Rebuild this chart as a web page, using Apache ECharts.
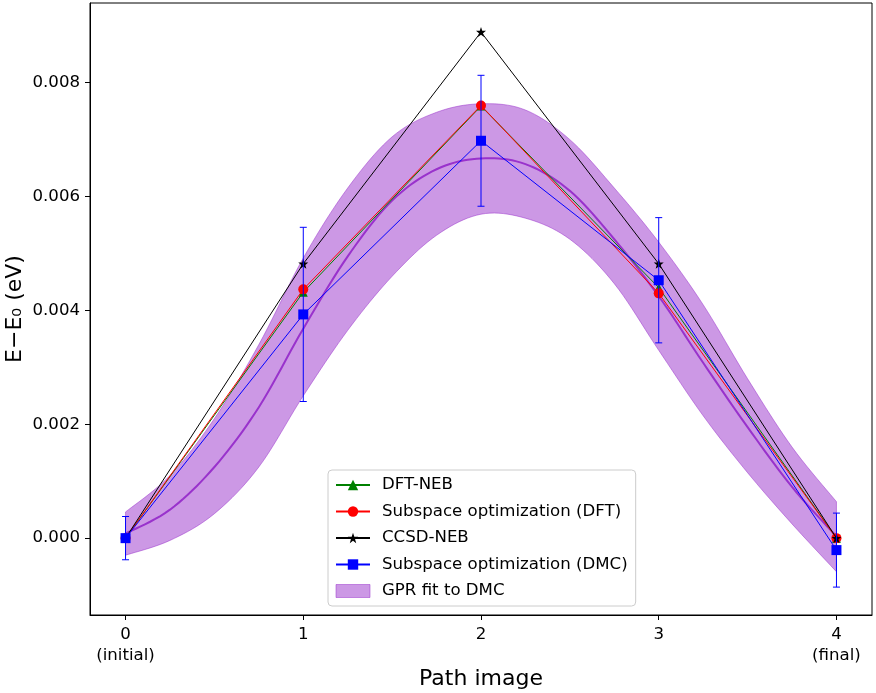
<!DOCTYPE html>
<html>
<head>
<meta charset="utf-8">
<script src="https://cdn.jsdelivr.net/npm/echarts@6/dist/echarts.min.js"></script>
<style>
    html, body { margin: 0; padding: 0; background: #fff; }
    #main { width: 876px; height: 693px; }
</style>
</head>
<body>
<div id="main"></div>
<script>
// path images
var images = [0, 1, 2, 3, 4];
var xTickLabels = ['0\n(initial)', '1', '2', '3', '4\n(final)'];
var yTicks = [0, 0.002, 0.004, 0.006, 0.008];

// energies (eV)
var dftNeb = [0, 0.00432, 0.00759, 0.0044, 0];
var subDft = [0, 0.00437, 0.0076, 0.0043, 0];
var ccsdNeb = [0, 0.00482, 0.00889, 0.00482, 0];
var subDmc = [0, 0.00393, 0.00698, 0.00453, -0.00021];
var subDmcErr = [0.00038, 0.00153, 0.00115, 0.0011, 0.00065];

// GPR fit to DMC
var gprX = [0, 0.25, 0.5, 0.75, 1, 1.25, 1.5, 1.75, 2, 2.25, 2.5, 2.75, 3, 3.25, 3.5, 3.75, 4];
var gprMean = [0.00008, 0.0005, 0.00125, 0.0023, 0.00368, 0.00495, 0.00593, 0.00648, 0.00667,
    0.00657, 0.0061, 0.00525, 0.00425, 0.00308, 0.00195, 0.0009, 0.00003];
var gprLower = [-0.0003, -0.00004, 0.00043, 0.00125, 0.0025, 0.00365, 0.0046, 0.00532, 0.00569,
    0.00562, 0.00525, 0.00447, 0.0033, 0.00215, 0.00115, 0.00025, -0.00059];
var gprUpper = [0.00046, 0.0011, 0.0021, 0.0034, 0.00492, 0.00615, 0.00705, 0.00748, 0.00763,
    0.00752, 0.007, 0.00615, 0.0052, 0.0041, 0.0028, 0.0016, 0.00064];

var FONT = 'DejaVu Sans';
var ORCHID = '#9932cc';
var ORCHID_HALF = 'rgba(153,50,204,0.5)';

function pairs(xs, ys) {
    return xs.map(function(x, i) { return [x, ys[i]]; });
}

// catmull-rom through pixel points so the band looks like the smooth fit
function spline(pts, steps) {
    var out = [];
    for (var i = 0; i < pts.length - 1; i++) {
        var p0 = pts[Math.max(i - 1, 0)], p1 = pts[i], p2 = pts[i + 1], p3 = pts[Math.min(i + 2, pts.length - 1)];
        for (var s = 0; s < steps; s++) {
            var t = s / steps, t2 = t * t, t3 = t2 * t;
            out.push([0, 1].map(function(k) {
                return 0.5 * ((2 * p1[k]) + (-p0[k] + p2[k]) * t +
                    (2 * p0[k] - 5 * p1[k] + 4 * p2[k] - p3[k]) * t2 +
                    (-p0[k] + 3 * p1[k] - 3 * p2[k] + p3[k]) * t3);
            }));
        }
    }
    out.push(pts[pts.length - 1]);
    return out;
}

function renderGpr(params, api) {
    if (params.dataIndex !== 0) return;
    var up = spline(gprX.map(function(x, i) { return api.coord([x, gprUpper[i]]); }), 10);
    var lo = spline(gprX.map(function(x, i) { return api.coord([x, gprLower[i]]); }), 10);
    var mid = spline(gprX.map(function(x, i) { return api.coord([x, gprMean[i]]); }), 10);
    return {
        type: 'group',
        children: [
            { type: 'polygon', shape: { points: up.concat(lo.slice().reverse()) },
              style: { fill: ORCHID_HALF, stroke: ORCHID_HALF, lineWidth: 1 } },
            { type: 'polyline', shape: { points: mid },
              style: { fill: null, stroke: ORCHID, lineWidth: 2 } }
        ]
    };
}

function renderErr(params, api) {
    var x = api.value(0), y = api.value(1), e = api.value(2);
    var top = api.coord([x, y + e]);
    var bot = api.coord([x, y - e]);
    var c = 3.5;
    var st = { stroke: '#0000ff', lineWidth: 1 };
    return {
        type: 'group',
        children: [
            { type: 'line', shape: { x1: top[0], y1: top[1], x2: bot[0], y2: bot[1] }, style: st },
            { type: 'line', shape: { x1: top[0] - c, y1: top[1], x2: top[0] + c, y2: top[1] }, style: st },
            { type: 'line', shape: { x1: bot[0] - c, y1: bot[1], x2: bot[0] + c, y2: bot[1] }, style: st }
        ]
    };
}

var chart = echarts.init(document.getElementById('main'));

var option = {
    animation: false,
    textStyle: { fontFamily: FONT },
    grid: {
        left: 90, right: 4, top: 3, bottom: 78,
        outerBoundsMode: 'none',
        containLabel: false,
        show: true, borderColor: '#000', borderWidth: 1
    },
    legend: {
        left: 328, top: 470,
        orient: 'vertical',
        padding: [5, 8, 5, 7],
        itemGap: 6.5,
        itemWidth: 34,
        itemHeight: 13,
        borderColor: '#cccccc',
        borderWidth: 1,
        borderRadius: 4,
        backgroundColor: 'rgba(255,255,255,0.8)',
        textStyle: { fontFamily: FONT, fontSize: 16.6, color: '#000', lineHeight: 20, padding: [0, 0, 0, 7] },
        data: [
            'DFT-NEB',
            'Subspace optimization (DFT)',
            'CCSD-NEB',
            'Subspace optimization (DMC)',
            { name: 'GPR fit to DMC', icon: 'rect', itemStyle: { color: ORCHID_HALF, borderColor: ORCHID_HALF, borderWidth: 1 } }
        ]
    },
    xAxis: {
        type: 'value',
        min: -0.2, max: 4.2,
        name: 'Path image',
        nameLocation: 'middle',
        nameGap: 53,
        nameMoveOverlap: false,
        nameTextStyle: { fontFamily: FONT, fontSize: 22, color: '#000' },
        splitLine: { show: false },
        axisLine: { show: true, onZero: false, lineStyle: { color: '#000', width: 1 } },
        axisTick: { show: true, length: 5, lineStyle: { color: '#000' }, customValues: images },
        axisLabel: {
            customValues: images,
            margin: 9,
            fontFamily: FONT, fontSize: 16.6, color: '#000', lineHeight: 21,
            formatter: function(v) {
                var i = images.indexOf(v);
                return i >= 0 ? xTickLabels[i] : '';
            }
        }
    },
    yAxis: {
        type: 'value',
        min: -0.00135, max: 0.0094,
        name: 'E\u2212E\u2080 (eV)',
        nameLocation: 'middle',
        nameGap: 64,
        nameMoveOverlap: false,
        nameTextStyle: { fontFamily: FONT, fontSize: 22, color: '#000' },
        splitLine: { show: false },
        axisLine: { show: true, onZero: false, lineStyle: { color: '#000', width: 1 } },
        axisTick: { show: true, length: 5, lineStyle: { color: '#000' }, customValues: yTicks },
        axisLabel: {
            customValues: yTicks,
            margin: 10,
            fontFamily: FONT, fontSize: 16.6, color: '#000',
            formatter: function(v) { return v.toFixed(3); }
        }
    },
    series: [
        {
            name: 'GPR fit to DMC',
            type: 'custom',
            z: 1,
            silent: true,
            itemStyle: { color: ORCHID_HALF },
            renderItem: renderGpr,
            data: pairs(gprX, gprMean)
        },
        {
            name: 'DFT-NEB',
            type: 'line',
            z: 3,
            symbol: 'triangle',
            symbolSize: 9,
            itemStyle: { color: 'green' },
            lineStyle: { color: 'green', width: 1 },
            data: pairs(images, dftNeb)
        },
        {
            name: 'Subspace optimization (DFT)',
            type: 'line',
            z: 4,
            symbol: 'circle',
            symbolSize: 10,
            itemStyle: { color: 'red' },
            lineStyle: { color: 'red', width: 1 },
            data: pairs(images, subDft)
        },
        {
            name: 'CCSD-NEB',
            type: 'line',
            z: 5,
            symbol: 'path://M0,-10 L2.35,-3.24 L9.51,-3.09 L3.8,1.24 L5.88,8.09 L0,4 L-5.88,8.09 L-3.8,1.24 L-9.51,-3.09 L-2.35,-3.24 Z',
            symbolSize: 10,
            itemStyle: { color: '#000' },
            lineStyle: { color: '#000', width: 1 },
            data: pairs(images, ccsdNeb)
        },
        {
            name: 'dmcErr',
            type: 'custom',
            z: 6,
            silent: true,
            renderItem: renderErr,
            data: images.map(function(x, i) { return [x, subDmc[i], subDmcErr[i]]; })
        },
        {
            name: 'Subspace optimization (DMC)',
            type: 'line',
            z: 7,
            symbol: 'rect',
            symbolSize: 10,
            itemStyle: { color: '#0000ff' },
            lineStyle: { color: '#0000ff', width: 1 },
            data: pairs(images, subDmc)
        }
    ]
};

chart.setOption(option);
</script>
</body>
</html>
